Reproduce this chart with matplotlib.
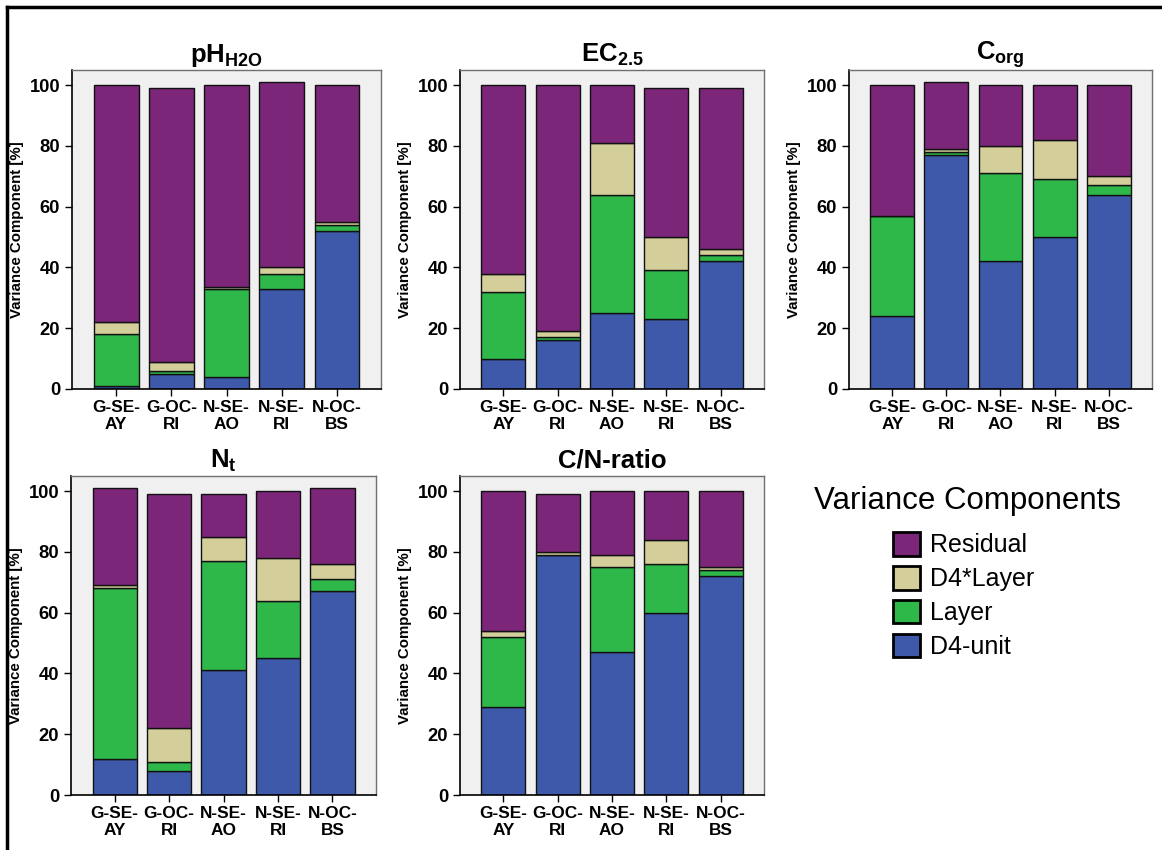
import matplotlib
matplotlib.use("Agg")
import matplotlib.pyplot as plt
from matplotlib.lines import Line2D
from matplotlib.patches import Patch
import numpy as np

plt.rcParams["font.family"] = ["Liberation Sans", "DejaVu Sans"]
plt.rcParams["mathtext.fontset"] = "custom"
plt.rcParams["mathtext.bf"] = "Liberation Sans:bold"
plt.rcParams["mathtext.rm"] = "Liberation Sans:bold"
plt.rcParams["mathtext.it"] = "Liberation Sans:bold"

sites = ["G-SE-\nAY", "G-OC-\nRI", "N-SE-\nAO", "N-SE-\nRI", "N-OC-\nBS"]
components = ["D4-unit", "Layer", "D4*Layer", "Residual"]
colors = ["#3e58aa", "#2eb84a", "#d4cf9a", "#7b2679"]

# variance components [%] per site: D4-unit, Layer, D4*Layer, Residual
ph_h2o = [[1, 17, 4, 78], [5, 1, 3, 90], [4, 29, 0.5, 66.5], [33, 5, 2, 61], [52, 2, 1, 45]]
ec_25 = [[10, 22, 6, 62], [16, 1, 2, 81], [25, 39, 17, 19], [23, 16, 11, 49], [42, 2, 2, 53]]
c_org = [[24, 33, 0, 43], [77, 1, 1, 22], [42, 29, 9, 20], [50, 19, 13, 18], [64, 3, 3, 30]]
n_t = [[12, 56, 1, 32], [8, 3, 11, 77], [41, 36, 8, 14], [45, 19, 14, 22], [67, 4, 5, 25]]
cn_ratio = [[29, 23, 2, 46], [79, 0, 1, 19], [47, 28, 4, 21], [60, 16, 8, 16], [72, 2, 1, 25]]

panels = [
    (r"$\mathbf{pH_{H2O}}$", ph_h2o, [0.062, 0.5424, 0.266, 0.3753]),
    (r"$\mathbf{EC_{2.5}}$", ec_25, [0.3959, 0.5424, 0.2616, 0.3753]),
    (r"$\mathbf{C_{org}}$", c_org, [0.7306, 0.5424, 0.2608, 0.3753]),
    (r"$\mathbf{N_{t}}$", n_t, [0.0611, 0.0647, 0.2625, 0.3753]),
    ("C/N-ratio", cn_ratio, [0.3959, 0.0647, 0.2616, 0.3753]),
]

fig = plt.figure(figsize=(11.62, 8.5), dpi=100)

for title, data, pos in panels:
    ax = fig.add_axes(pos)
    ax.set_facecolor("#f0f0f0")
    vals = np.array(data, dtype=float)
    x = np.arange(len(sites))
    bottom = np.zeros(len(sites))
    for k in range(len(components)):
        ax.bar(x, vals[:, k], bottom=bottom, width=0.81, color=colors[k],
               edgecolor="#111111", linewidth=1.0, zorder=2)
        bottom += vals[:, k]
    ax.set_xlim(-0.8, 4.8)
    ax.set_ylim(0, 105)
    ax.set_yticks([0, 20, 40, 60, 80, 100])
    ax.set_xticks(x)
    ax.set_xticklabels(sites, fontsize=12.4, fontweight="bold", linespacing=1.12)
    ax.tick_params(axis="y", labelsize=13.2, length=5, width=1, direction="out")
    ax.tick_params(axis="x", length=5, width=1, direction="out", pad=3)
    for lbl in ax.get_yticklabels():
        lbl.set_fontweight("bold")
    ax.set_ylabel("Variance Component [%]", fontsize=10.8, fontweight="bold", labelpad=4)
    for s in ["left", "bottom"]:
        ax.spines[s].set_color("black")
        ax.spines[s].set_linewidth(1.2)
    for s in ["top", "right"]:
        ax.spines[s].set_color("#707070")
        ax.spines[s].set_linewidth(1.0)
    ax.set_title(title, fontsize=18.5, fontweight="bold", pad=6)

fig.text(968 / 1162, 1 - 501 / 850, "Variance Components", ha="center", va="center",
         fontsize=22.5)
handles = [Patch(facecolor=colors[k], edgecolor="black", linewidth=2)
           for k in [3, 2, 1, 0]]
labels = [components[k] for k in [3, 2, 1, 0]]
leg = fig.legend(handles, labels, loc="upper left", bbox_to_anchor=(893 / 1162, 1 - 532 / 850),
                 frameon=False, fontsize=18, handlelength=1.08, handleheight=1.08,
                 handletextpad=0.4, labelspacing=0.34, borderpad=0, borderaxespad=0)

# outer frame lines (top and left)
fig.add_artist(Line2D([6.5 / 1162, 1], [1 - 7 / 850, 1 - 7 / 850], color="black", lw=2.5))
fig.add_artist(Line2D([6.5 / 1162, 6.5 / 1162], [0, 1 - 7 / 850], color="black", lw=2.5))

plt.savefig("out.png", dpi=100)
